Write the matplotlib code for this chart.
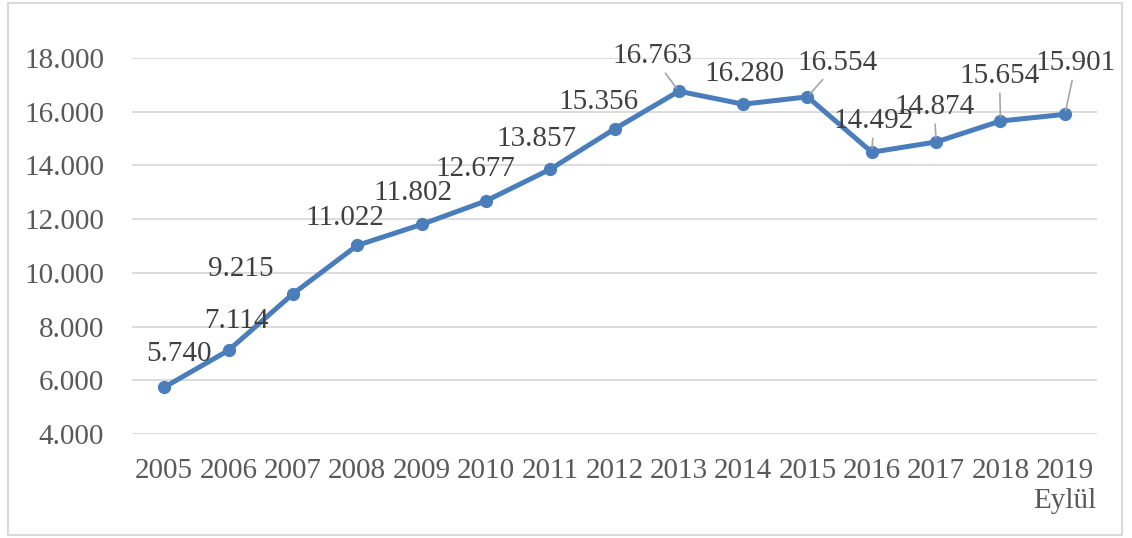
import matplotlib
matplotlib.use("Agg")
import matplotlib.pyplot as plt
from matplotlib.patches import Rectangle

years = ["2005", "2006", "2007", "2008", "2009", "2010", "2011", "2012",
         "2013", "2014", "2015", "2016", "2017", "2018", "2019\nEylül"]
values = [5740, 7114, 9215, 11022, 11802, 12677, 13857, 15356,
          16763, 16280, 16554, 14492, 14874, 15654, 15901]
value_labels = ["5.740", "7.114", "9.215", "11.022", "11.802", "12.677", "13.857",
                "15.356", "16.763", "16.280", "16.554", "14.492", "14.874",
                "15.654", "15.901"]
yticks = [4000, 6000, 8000, 10000, 12000, 14000, 16000, 18000]
ytick_labels = ["4.000", "6.000", "8.000", "10.000", "12.000", "14.000", "16.000", "18.000"]

# label offsets in pixels (dx, dy) and whether a leader line is drawn
offsets = [(15, 33), (8, 29), (-52, 25), (-12, 27), (-9, 31), (-10, 32), (-14, 30),
           (-16, 27), (-26, 35), (1, 30), (30, 34), (2, 31), (-2, 35), (-1, 45), (11, 51)]
leaders = [False] * 8 + [True, False, True, True, True, True, True]

plt.rcParams['font.family'] = ['Liberation Serif', 'DejaVu Serif']

fig = plt.figure(figsize=(11.32, 5.38), dpi=100)
fig.patches.append(Rectangle((8 / 1132, 1 - 535 / 538), (1122 - 8) / 1132, (535 - 3) / 538,
                             transform=fig.transFigure, fill=False,
                             edgecolor='#D9D9D9', linewidth=1.5))
ax = fig.add_axes([132 / 1132, 1 - 434 / 538, (1097 - 132) / 1132, (434 - 58) / 538])

x = list(range(len(years)))
ax.plot(x, values, color='#4A7EBB', linewidth=3.6, marker='o', markersize=8.5,
        zorder=3, solid_capstyle='round')

ax.set_xlim(-0.5, len(years) - 0.5)
ax.set_ylim(4000, 18000)
ax.set_yticks(yticks)
ax.set_yticklabels(ytick_labels)
ax.set_xticks(x)
ax.set_xticklabels(years)
ax.grid(axis='y', color='#D9D9D9', linewidth=1.3)
ax.set_axisbelow(True)
for s in ax.spines.values():
    s.set_visible(False)
ax.tick_params(axis='both', length=0, labelsize=21, colors='#595959')
ax.tick_params(axis='y', pad=20)
ax.tick_params(axis='x', pad=17)
ax.xaxis.get_majorticklabels()[-1].set_linespacing(1.2)

for i, (v, lab) in enumerate(zip(values, value_labels)):
    dx, dy = offsets[i]
    kw = {}
    if leaders[i]:
        kw['arrowprops'] = dict(arrowstyle='-', color='#A6A6A6', linewidth=1.2,
                                shrinkA=1, shrinkB=3)
    ax.annotate(lab, xy=(i, v), xytext=(dx, dy), textcoords='offset pixels',
                ha='center', va='center', fontsize=21, color='#404040',
                zorder=4, **kw)

fig.savefig("out.png", dpi=100)
